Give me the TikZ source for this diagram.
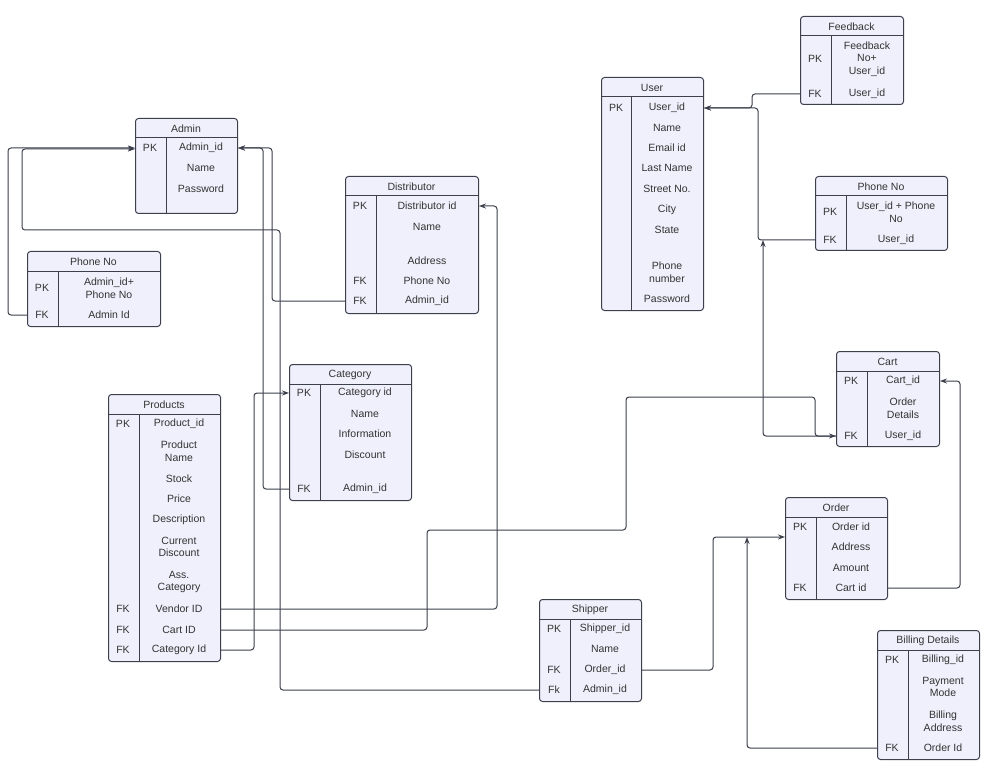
\documentclass[tikz,border=0pt]{standalone}
\usepackage{fontspec}
\setmainfont{Liberation Sans}
\usetikzlibrary{arrows.meta}
\definecolor{bfill}{HTML}{F0F0FC}
\definecolor{bdraw}{HTML}{3C3F4C}
\definecolor{tcol}{HTML}{333333}
\tikzset{
  box/.style={draw=bdraw,fill=bfill,line width=1pt,rounded corners=3pt,inner sep=0pt},
  ln/.style={draw=bdraw,line width=1pt},
  txt/.style={text=tcol,font=\fontsize{10.5}{12.5}\selectfont,align=center,inner sep=0pt},
  con/.style={draw=bdraw,line width=1pt,rounded corners=3pt},
  arr/.style={con,-{Stealth[length=7pt,width=5pt]}}
}
\newcommand\tbl[8]{%
  \node[box,anchor=north west,minimum width={#4-#2},minimum height={#5-#3}] (#1) at (#2,#3) {};
  \draw[ln] (#2,#6) -- (#4,#6);
  \draw[ln] (#7,#6) -- (#7,#5);
  \node[txt] (#1-title) at ({(#2+#4)/2},{(#3+#6)/2+1}) {#8};}
% name, keyx, fieldx, y, key, field
\newcommand\rw[6]{%
  \node[txt] (#1-k) at (#2,#4) {#5};
  \node[txt] (#1) at (#3,#4) {#6};}
\begin{document}
\begin{tikzpicture}[x=1pt,y=-1pt]
\useasboundingbox (0,0) rectangle (989,773);
% Admin
\tbl{admin}{135}{118}{237}{213}{138}{166}{Admin}
\rw{admin-pk}{150}{201}{148}{PK}{Admin\_id}
\rw{admin-n}{150}{201}{168}{}{Name}
\rw{admin-p}{150}{201}{189}{}{Password}
% Phone No (admin)
\tbl{pha}{27}{251}{160}{326}{271}{58}{Phone No}
\rw{pha-pk}{42}{109}{288}{PK}{Admin\_id+\\Phone No}
\rw{pha-fk}{42}{109}{315}{FK}{Admin Id}
% Distributor
\tbl{dist}{345}{176}{478}{313}{196}{376}{Distributor}
\rw{dist-pk}{360}{427}{206}{PK}{Distributor id}
\rw{dist-n}{360}{427}{227}{}{Name}
\rw{dist-a}{360}{427}{261}{}{Address}
\rw{dist-fk1}{360}{427}{281}{FK}{Phone No}
\rw{dist-fk2}{360}{427}{301}{FK}{Admin\_id}
% Category
\tbl{cat}{289}{364}{411}{500}{384}{320}{Category}
\rw{cat-pk}{304}{365}{393}{PK}{Category id}
\rw{cat-n}{304}{365}{414}{}{Name}
\rw{cat-i}{304}{365}{434}{}{Information}
\rw{cat-d}{304}{365}{455}{}{Discount}
\rw{cat-fk}{304}{365}{489}{FK}{Admin\_id}
% Products
\tbl{prod}{108}{394}{220}{661}{414}{139}{Products}
\rw{prod-pk}{123}{179}{424}{PK}{Product\_id}
\rw{prod-n}{123}{179}{451}{}{Product\\Name}
\rw{prod-s}{123}{179}{479}{}{Stock}
\rw{prod-p}{123}{179}{499}{}{Price}
\rw{prod-d}{123}{179}{520}{}{Description}
\rw{prod-cd}{123}{179}{547}{}{Current\\Discount}
\rw{prod-ac}{123}{179}{582}{}{Ass.\\Category}
\rw{prod-v}{123}{179}{609}{FK}{Vendor ID}
\rw{prod-c}{123}{179}{630}{FK}{Cart ID}
\rw{prod-cat}{123}{179}{650}{FK}{Category Id}
% User
\tbl{user}{601}{77}{703}{310}{97}{631}{User}
\rw{user-pk}{616}{667}{108}{PK}{User\_id}
\rw{user-n}{616}{667}{128}{}{Name}
\rw{user-e}{616}{667}{148}{}{Email id}
\rw{user-l}{616}{667}{168}{}{Last Name}
\rw{user-s}{616}{667}{189}{}{Street No.}
\rw{user-c}{616}{667}{210}{}{City}
\rw{user-st}{616}{667}{230}{}{State}
\rw{user-ph}{616}{667}{272}{}{Phone\\number}
\rw{user-pw}{616}{667}{299}{}{Password}
% Feedback
\tbl{fb}{800}{16}{903}{104}{36}{831}{Feedback}
\rw{fb-pk}{815}{867}{59}{PK}{Feedback\\No+\\User\_id}
\rw{fb-fk}{815}{867}{94}{FK}{User\_id}
% Phone No (user)
\tbl{uph}{815}{176}{947}{250}{196}{846}{Phone No}
\rw{uph-pk}{830}{896}{212}{PK}{User\_id + Phone\\No}
\rw{uph-fk}{830}{896}{240}{FK}{User\_id}
% Cart
\tbl{cart}{836}{351}{939}{446}{371}{867}{Cart}
\rw{cart-pk}{851}{903}{381}{PK}{Cart\_id}
\rw{cart-od}{851}{903}{408}{}{Order\\Details}
\rw{cart-fk}{851}{903}{436}{FK}{User\_id}
% Order
\tbl{order}{785}{497}{887}{599}{517}{816}{Order}
\rw{order-pk}{800}{851}{527}{PK}{Order id}
\rw{order-a}{800}{851}{547}{}{Address}
\rw{order-am}{800}{851}{568}{}{Amount}
\rw{order-fk}{800}{851}{588}{FK}{Cart id}
% Shipper
\tbl{ship}{539}{599}{641}{701}{619}{570}{Shipper}
\rw{ship-pk}{554}{605}{629}{PK}{Shipper\_id}
\rw{ship-n}{554}{605}{649}{}{Name}
\rw{ship-fk1}{554}{605}{670}{FK}{Order\_id}
\rw{ship-fk2}{554}{605}{690}{Fk}{Admin\_id}
% Billing
\tbl{bill}{877}{630}{979}{759}{650}{908}{Billing Details}
\rw{bill-pk}{892}{943}{660}{PK}{Billing\_id}
\rw{bill-pm}{892}{943}{687}{}{Payment\\Mode}
\rw{bill-ba}{892}{943}{721}{}{Billing\\Address}
\rw{bill-fk}{892}{943}{748}{FK}{Order Id}
% connectors
\coordinate (j1) at (8,315);
\coordinate (j2) at (280,230);
\coordinate (j3) at (22,149);
\coordinate (j4) at (272,148);
\coordinate (j5) at (263,148);
\coordinate (j6) at (497,206);
\coordinate (j7) at (427,530);
\coordinate (j8) at (626,397);
\coordinate (j9) at (815,436);
\coordinate (j10) at (254,393);
\coordinate (j11) at (713,537);
\coordinate (j12) at (747,537);
\coordinate (j13) at (960,381);
\coordinate (j14) at (763,240);
\coordinate (j15) at (758,108);
\coordinate (j16) at (752,108);
\draw[arr] (pha.west |- pha-fk) -- (j1) |- (admin.west |- admin-pk);
\draw[arr] (ship.west |- ship-fk2) -| (j2) -| (j3) -- (admin.west |- j3);
\draw[arr] (dist.west |- dist-fk2) -| (j4) -- (admin.east |- admin-pk);
\draw[arr] (cat.west |- cat-fk) -| (j5) -- (admin.east |- admin-pk);
\draw[arr] (prod.east |- prod-v) -| (j6) -- (dist.east |- dist-pk);
\draw[arr] (prod.east |- prod-c) -| (j7) -| (j8) -| (j9) -- (cart.west |- cart-fk);
\draw[arr] (prod.east |- prod-cat) -| (j10) -- (cat.west |- cat-pk);
\draw[arr] (ship.east |- ship-fk1) -| (j11) -- (order.west |- j11);
\draw[arr] (bill.west |- bill-fk) -| (j12);
\draw[arr] (order.east |- order-fk) -| (j13) -- (cart.east |- cart-pk);
\draw[arr] (cart.west |- cart-fk) -| (j14);
\draw[arr] (uph.west |- uph-fk) -| (j15) -- (user.east |- user-pk);
\draw[arr] (fb.west |- fb-fk) -| (j16) -- (user.east |- user-pk);
\end{tikzpicture}
\end{document}
